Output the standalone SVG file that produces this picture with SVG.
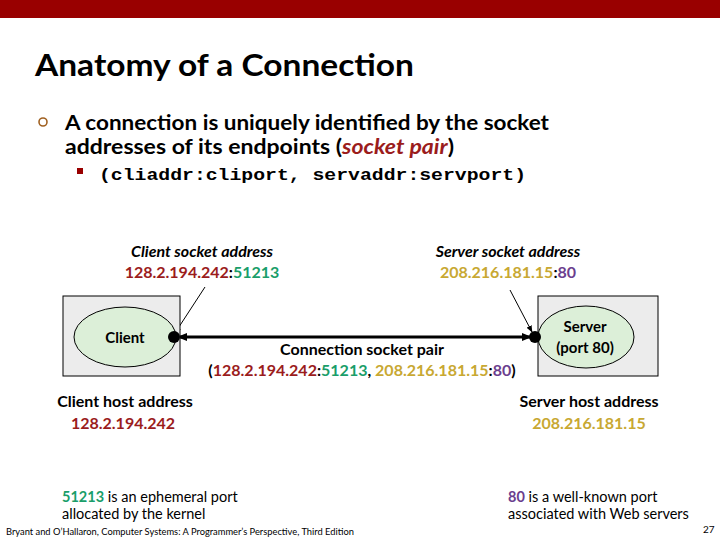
<svg xmlns="http://www.w3.org/2000/svg" width="720" height="540" viewBox="0 0 720 540">
<style>
text{font-family:Lato,"Open Sans",sans-serif;fill:#000}
.b{font-weight:bold}
.i{font-style:italic}
.r{fill:#9b1c1c}.g{fill:#1a9e6a}.y{fill:#c8a832}.p{fill:#6b3e8e}
.m{font-family:"Liberation Mono",monospace}
.box{fill:#ececec;stroke:#000;stroke-width:1}
.ell{fill:#dcefd8;stroke:#000;stroke-width:1}
</style>
<defs>
<marker id="ah" viewBox="0 0 10 10" refX="9" refY="5" markerWidth="7" markerHeight="7" orient="auto-start-reverse"><path d="M0,1 L10,5 L0,9 z" fill="#000"/></marker>
<marker id="ah2" viewBox="0 0 10 10" refX="9" refY="5" markerUnits="userSpaceOnUse" markerWidth="10" markerHeight="10" orient="auto-start-reverse"><path d="M0,1 L10,5 L0,9 z" fill="#000"/></marker>
</defs>
<rect x="0" y="0" width="720" height="18" fill="#990000"/>
<text x="35" y="76" font-size="30" class="b" textLength="379" lengthAdjust="spacingAndGlyphs">Anatomy of a Connection</text>
<circle cx="43" cy="122" r="4" fill="none" stroke="#a06020" stroke-width="1.6"/>
<text x="65" y="130" font-size="20" class="b" textLength="484" lengthAdjust="spacingAndGlyphs">A connection is uniquely identified by the socket</text>
<text x="65" y="154" font-size="20" class="b" textLength="389" lengthAdjust="spacingAndGlyphs">addresses of its endpoints (<tspan class="r i">socket pair</tspan>)</text>
<rect x="77" y="168" width="6" height="6" fill="#990000"/>
<text x="99" y="180" font-size="17" class="m b" textLength="427" lengthAdjust="spacingAndGlyphs">(cliaddr:cliport, servaddr:servport)</text>

<g id="connectors" stroke="#000" fill="none">
<line x1="178" y1="337" x2="531" y2="337" stroke-width="3" marker-start="url(#ah2)" marker-end="url(#ah2)"/>
<line x1="205" y1="287" x2="175" y2="333" stroke-width="1" marker-end="url(#ah)"/>
<line x1="510" y1="290" x2="532" y2="332" stroke-width="1" marker-end="url(#ah)"/>
</g>

<g id="client">
<rect class="box" x="63" y="296" width="117" height="80"/>
<ellipse class="ell" cx="125" cy="337" rx="51" ry="30"/>
<circle cx="174" cy="337" r="6" fill="#000"/>
<text x="125" y="343" font-size="15" class="b" text-anchor="middle">Client</text>
</g>
<g id="server">
<rect class="box" x="538" y="296" width="120" height="80"/>
<ellipse class="ell" cx="586" cy="337" rx="48" ry="31"/>
<circle cx="535" cy="337" r="6" fill="#000"/>
<text x="585" y="332" font-size="15" class="b" text-anchor="middle">Server</text>
<text x="585" y="353" font-size="15" class="b" text-anchor="middle">(port 80)</text>
</g>

<g font-size="16" text-anchor="middle">
<text x="202" y="257" class="i b">Client socket address</text>
<text x="202" y="278" class="b"><tspan class="r">128.2.194.242</tspan>:<tspan class="g">51213</tspan></text>
<text x="508" y="257" class="i b">Server socket address</text>
<text x="508" y="278" class="b"><tspan class="y">208.216.181.15</tspan>:<tspan class="p">80</tspan></text>
<text x="362" y="355" class="b">Connection socket pair</text>
<text x="362" y="376" class="b">(<tspan class="r">128.2.194.242</tspan>:<tspan class="g">51213</tspan>, <tspan class="y">208.216.181.15</tspan>:<tspan class="p">80</tspan>)</text>
<text x="125" y="407" class="b">Client host address</text>
<text x="123" y="429" class="b r">128.2.194.242</text>
<text x="589" y="407" class="b">Server host address</text>
<text x="589" y="429" class="b y">208.216.181.15</text>
</g>
<g font-size="14.5">
<text x="62" y="502"><tspan class="g b">51213</tspan> is an ephemeral port</text>
<text x="62" y="519">allocated by the kernel</text>
<text x="508" y="502"><tspan class="p b">80</tspan> is a well-known port</text>
<text x="508" y="519">associated with Web servers</text>
</g>
<text x="6" y="535" font-size="9.5" textLength="348" lengthAdjust="spacingAndGlyphs">Bryant and O’Hallaron, Computer Systems: A Programmer’s Perspective, Third Edition</text>
<text x="703" y="533" font-size="10">27</text>
</svg>
